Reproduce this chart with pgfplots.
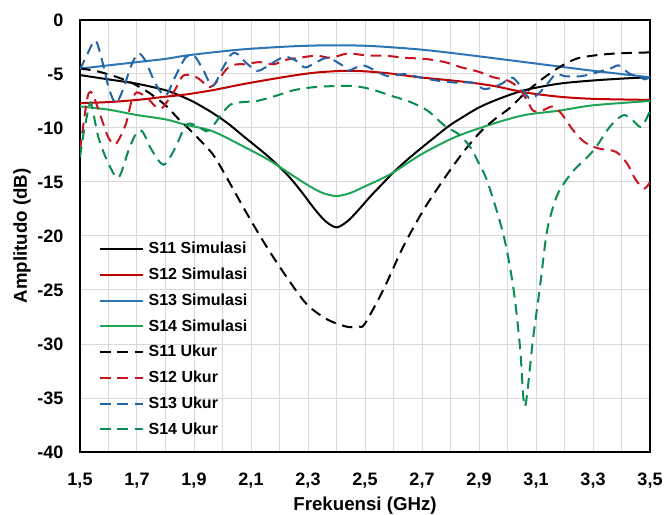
\documentclass[border=0pt]{standalone}
\usepackage{fontspec}
\setmainfont{Liberation Sans}
\usepackage{pgfplots}
\pgfplotsset{compat=1.18}
\definecolor{gridgray}{RGB}{217,217,217}
\definecolor{sred}{RGB}{192,0,0}
\definecolor{sblue}{RGB}{46,117,182}
\definecolor{sgreen}{RGB}{30,165,85}
\definecolor{dred}{RGB}{200,20,30}
\definecolor{dblue}{RGB}{35,100,165}
\definecolor{dgreen}{RGB}{10,140,80}

\begin{document}
\begin{tikzpicture}
\useasboundingbox (-60pt,-46.5pt) rectangle (440.25pt,339pt);
\begin{axis}[
  scale only axis, width=427.5pt, height=324pt,
  xmin=1.5, xmax=3.5, ymin=-40, ymax=0,
  xtick={1.5,1.7,1.9,2.1,2.3,2.5,2.7,2.9,3.1,3.3,3.5},
  xticklabels={{1,5},{1,7},{1,9},{2,1},{2,3},{2,5},{2,7},{2,9},{3,1},{3,3},{3,5}},
  minor x tick num=1,
  ytick={-40,-35,-30,-25,-20,-15,-10,-5,0},
  yticklabels={-40,-35,-30,-25,-20,-15,-10,-5,0},
  grid=both,
  major grid style={draw=gridgray, line width=0.75pt},
  minor grid style={draw=gridgray, line width=0.75pt},
  major tick length=0pt, minor tick length=0pt,
  axis line style={line width=1pt, black},
  tick label style={font=\fontsize{13.5}{16}\selectfont\bfseries},
  xticklabel style={yshift=-12.5pt},
  yticklabel style={xshift=-9pt},
  xlabel={Frekuensi (GHz)}, ylabel={Amplitudo (dB)},
  label style={font=\fontsize{14}{17}\selectfont\bfseries},
  xlabel style={at={(axis description cs:0.5,-0.1343)}, anchor=base},
  ylabel style={at={(axis description cs:-0.093,0.5)}, anchor=base},
  legend style={draw=none, fill=none, at={(rel axis cs:0.0333,0.4884)}, anchor=north west,
    inner sep=0pt, outer sep=0pt, font=\fontsize{12}{14}\selectfont\bfseries,
    row sep=7.1pt, column sep=2.75pt, nodes={inner sep=1pt}},
  legend cell align=left,
  legend image code/.code={\draw[#1] (0pt,0pt) -- (32pt,0pt);},
  every axis plot/.append style={line width=1.5pt, smooth, no markers},
  ukur/.style={dash pattern=on 8pt off 5pt},
]
% S11 Simulasi
\addplot[black] coordinates {
(1.50,-5.1) (1.60,-5.5) (1.70,-5.9) (1.80,-6.5) (1.85,-7.0) (1.90,-7.6) (1.965,-8.6)
(2.02,-9.6) (2.08,-10.9) (2.15,-12.4) (2.20,-13.6) (2.24,-14.7) (2.28,-16.0) (2.32,-17.4)
(2.36,-18.6) (2.40,-19.2) (2.44,-18.6) (2.48,-17.5) (2.52,-16.3) (2.56,-15.2) (2.60,-14.1)
(2.65,-12.9) (2.70,-11.8) (2.79,-9.9) (2.83,-9.2) (2.90,-8.1) (2.97,-7.3) (3.06,-6.5)
(3.18,-5.9) (3.30,-5.6) (3.42,-5.4) (3.50,-5.3)};
\addlegendentry{S11 Simulasi}
% S12 Simulasi
\addplot[sred] coordinates {
(1.50,-7.7) (1.60,-7.6) (1.70,-7.4) (1.80,-7.1) (1.87,-6.9) (1.965,-6.5) (2.08,-5.9)
(2.235,-5.2) (2.335,-4.85) (2.45,-4.7) (2.57,-4.9) (2.69,-5.3) (2.84,-5.7) (2.95,-6.1)
(3.06,-6.7) (3.18,-7.1) (3.30,-7.3) (3.50,-7.4)};
\addlegendentry{S12 Simulasi}
% S13 Simulasi
\addplot[sblue] coordinates {
(1.50,-4.5) (1.60,-4.2) (1.70,-3.9) (1.80,-3.6) (1.87,-3.3) (1.965,-3.0) (2.08,-2.7)
(2.235,-2.45) (2.35,-2.35) (2.45,-2.35) (2.55,-2.45) (2.70,-2.75) (2.85,-3.2) (3.06,-3.9)
(3.30,-4.7) (3.50,-5.3)};
\addlegendentry{S13 Simulasi}
% S14 Simulasi
\addplot[sgreen] coordinates {
(1.50,-8.0) (1.60,-8.3) (1.70,-8.8) (1.80,-9.2) (1.87,-9.7) (1.965,-10.3) (2.08,-11.8)
(2.165,-13.0) (2.235,-14.2) (2.30,-15.3) (2.35,-16.0) (2.40,-16.3) (2.45,-16.0) (2.50,-15.4)
(2.55,-14.8) (2.60,-14.1) (2.70,-12.4) (2.82,-10.8) (2.95,-9.6) (3.06,-8.8) (3.18,-8.4)
(3.30,-7.9) (3.50,-7.5)};
\addlegendentry{S14 Simulasi}
% S11 Ukur
\addplot[black, ukur] coordinates {
(1.50,-4.5) (1.553,-4.7) (1.62,-5.2) (1.68,-5.8) (1.74,-6.7) (1.80,-7.9) (1.847,-9.2)
(1.894,-10.4) (1.965,-12.4) (2.015,-14.6) (2.085,-17.9) (2.155,-21.0) (2.225,-23.8)
(2.295,-26.3) (2.366,-27.7) (2.436,-28.4) (2.48,-28.4) (2.50,-28.1) (2.564,-25.0)
(2.634,-21.0) (2.705,-17.6) (2.775,-14.8) (2.84,-12.4) (2.90,-10.5) (2.95,-9.3) (3.01,-8.1)
(3.06,-6.8) (3.12,-5.5) (3.18,-4.4) (3.24,-3.6) (3.30,-3.3) (3.38,-3.1) (3.50,-3.0)};
\addlegendentry{S11 Ukur}
% S12 Ukur
\addplot[dred, ukur] coordinates {
(1.50,-12.1) (1.518,-8.5) (1.53,-6.8) (1.545,-6.9) (1.575,-9.1) (1.60,-10.9) (1.625,-11.5)
(1.66,-9.7) (1.68,-7.6) (1.70,-6.7) (1.74,-7.3) (1.76,-7.9) (1.785,-8.2) (1.81,-7.4)
(1.835,-6.4) (1.86,-5.2) (1.89,-5.1) (1.92,-5.5) (1.95,-6.2) (1.97,-6.0) (1.995,-5.2)
(2.02,-4.4) (2.05,-4.1) (2.08,-4.1) (2.13,-3.9) (2.18,-4.1) (2.22,-3.7) (2.27,-3.5)
(2.33,-3.3) (2.38,-3.5) (2.44,-3.1) (2.51,-3.3) (2.57,-3.3) (2.64,-3.5) (2.71,-3.6)
(2.78,-3.9) (2.84,-4.4) (2.90,-4.8) (2.95,-5.3) (3.00,-5.6) (3.04,-6.3) (3.07,-7.5)
(3.09,-8.4) (3.12,-8.4) (3.16,-8.0) (3.19,-8.7) (3.23,-10.2) (3.27,-11.3) (3.32,-11.9)
(3.38,-12.2) (3.42,-13.3) (3.45,-14.8) (3.48,-15.6) (3.50,-15.0)};
\addlegendentry{S12 Ukur}
% S13 Ukur
\addplot[dblue, ukur] coordinates {
(1.50,-4.6) (1.52,-3.5) (1.553,-1.9) (1.575,-3.5) (1.60,-6.2) (1.625,-7.7) (1.65,-6.5)
(1.68,-4.2) (1.705,-3.1) (1.73,-3.8) (1.765,-5.9) (1.80,-7.0) (1.835,-5.2) (1.87,-3.5)
(1.90,-3.3) (1.93,-4.5) (1.965,-6.1) (2.00,-4.5) (2.03,-3.2) (2.05,-3.1) (2.08,-3.9)
(2.12,-4.7) (2.15,-4.4) (2.18,-3.9) (2.22,-3.4) (2.26,-3.8) (2.29,-4.4) (2.33,-3.9)
(2.37,-3.5) (2.42,-4.2) (2.44,-4.7) (2.49,-4.2) (2.53,-4.6) (2.58,-5.2) (2.64,-5.0)
(2.69,-5.3) (2.75,-5.6) (2.82,-5.8) (2.88,-5.8) (2.92,-6.4) (2.98,-5.9) (3.01,-5.3)
(3.03,-5.6) (3.06,-6.7) (3.08,-7.3) (3.11,-6.8) (3.14,-5.9) (3.17,-5.0) (3.20,-5.2)
(3.26,-5.2) (3.32,-4.8) (3.37,-4.4) (3.39,-4.2) (3.43,-5.0) (3.46,-5.2) (3.48,-5.5)
(3.50,-5.3)};
\addlegendentry{S13 Ukur}
% S14 Ukur
\addplot[dgreen, ukur] coordinates {
(1.50,-12.7) (1.512,-10.6) (1.53,-8.2) (1.54,-7.8) (1.565,-10.9) (1.60,-13.3) (1.635,-14.6)
(1.67,-12.1) (1.695,-10.6) (1.718,-10.3) (1.753,-12.1) (1.794,-13.4) (1.835,-11.8)
(1.86,-10.3) (1.88,-9.6) (1.91,-9.8) (1.945,-10.3) (1.97,-9.7) (2.00,-8.6) (2.03,-7.8)
(2.07,-7.6) (2.12,-7.5) (2.19,-7.0) (2.25,-6.5) (2.33,-6.2) (2.45,-6.1) (2.52,-6.4)
(2.59,-7.0) (2.66,-7.6) (2.72,-8.4) (2.78,-9.8) (2.83,-10.6) (2.87,-11.8) (2.90,-13.3)
(2.93,-15.0) (2.985,-19.8) (3.02,-24.7) (3.044,-30.3) (3.061,-35.8) (3.09,-29.4)
(3.114,-24.7) (3.137,-19.8) (3.16,-17.3) (3.184,-15.7) (3.23,-14.0) (3.28,-12.7)
(3.31,-11.8) (3.35,-10.2) (3.38,-9.3) (3.41,-8.8) (3.44,-9.3) (3.47,-9.9) (3.50,-8.4)};
\addlegendentry{S14 Ukur}
\end{axis}
\end{tikzpicture}
\end{document}
